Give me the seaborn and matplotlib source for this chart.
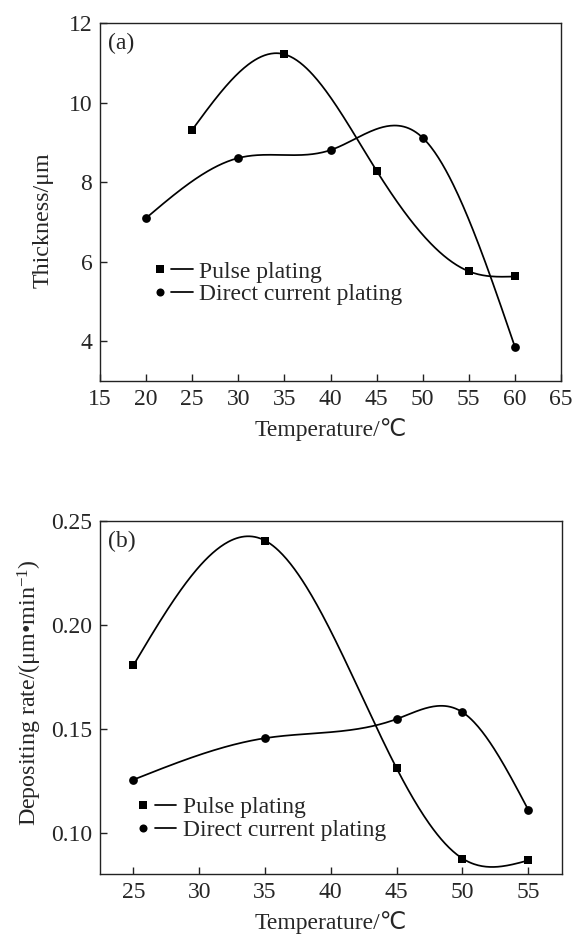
import numpy as np
import pandas as pd
import matplotlib
matplotlib.use("Agg")
import matplotlib.pyplot as plt
import seaborn as sns
from matplotlib.lines import Line2D
from matplotlib.legend_handler import HandlerTuple

# ---------------- data ----------------
temp_a_pulse = [25, 35, 45, 55, 60]
thick_pulse = [9.32, 11.22, 8.29, 5.76, 5.63]
temp_a_dc = [20, 30, 40, 50, 60]
thick_dc = [7.10, 8.61, 8.81, 9.12, 3.86]

temp_b_pulse = [25, 35, 45, 50, 55]
rate_pulse = [0.1805, 0.2406, 0.131, 0.0876, 0.0867]
temp_b_dc = [25, 35, 45, 50, 55]
rate_dc = [0.1255, 0.1455, 0.1547, 0.158, 0.111]

xticks_a = [15, 20, 25, 30, 35, 40, 45, 50, 55, 60, 65]
yticks_a = [4, 6, 8, 10, 12]
xticks_b = [25, 30, 35, 40, 45, 50, 55]
yticks_b = [0.10, 0.15, 0.20, 0.25]
ytick_labels_b = ["0.10", "0.15", "0.20", "0.25"]

labels = ["Pulse plating", "Direct current plating"]


def natural_spline(x, y, n=300):
    x = np.asarray(x, float)
    y = np.asarray(y, float)
    m = len(x)
    h = np.diff(x)
    A = np.zeros((m, m))
    b = np.zeros(m)
    A[0, 0] = 1
    A[-1, -1] = 1
    for i in range(1, m - 1):
        A[i, i - 1] = h[i - 1]
        A[i, i] = 2 * (h[i - 1] + h[i])
        A[i, i + 1] = h[i]
        b[i] = 3 * ((y[i + 1] - y[i]) / h[i] - (y[i] - y[i - 1]) / h[i - 1])
    c = np.linalg.solve(A, b)
    bb = (y[1:] - y[:-1]) / h - h * (2 * c[:-1] + c[1:]) / 3
    d = (c[1:] - c[:-1]) / (3 * h)
    xs = np.linspace(x[0], x[-1], n)
    idx = np.clip(np.searchsorted(x, xs, side="right") - 1, 0, m - 2)
    dx = xs - x[idx]
    ys = y[idx] + bb[idx] * dx + c[idx] * dx ** 2 + d[idx] * dx ** 3
    return xs, ys


sns.set_style("ticks")
plt.rcParams["font.family"] = ["Liberation Serif", "DejaVu Sans"]
plt.rcParams["mathtext.fontset"] = "custom"
plt.rcParams["mathtext.rm"] = "Liberation Serif"
plt.rcParams["mathtext.it"] = "Liberation Serif:italic"
plt.rcParams["xtick.direction"] = "in"
plt.rcParams["ytick.direction"] = "in"

fig = plt.figure(figsize=(5.75, 9.36), dpi=100)
W, H = 575, 936
ax1 = fig.add_axes([100 / W, 1 - 381 / H, 461 / W, 357.7 / H])
ax2 = fig.add_axes([100 / W, 1 - 874.3 / H, 462 / W, 353.3 / H])

LW = 1.25
MS_S = 6.0
MS_C = 6.3


def draw(ax, xp, yp, xd, yd):
    for (xx, yy, mk, ms) in [(xp, yp, "s", MS_S), (xd, yd, "o", MS_C)]:
        xs, ys = natural_spline(xx, yy)
        sns.lineplot(x=xs, y=ys, ax=ax, color="black", lw=LW, sort=False,
                     estimator=None, legend=False)
        ax.plot(xx, yy, ls="none", marker=mk, ms=ms, mew=0, color="black",
                zorder=5)
    hp = (Line2D([], [], ls="none", marker="s", ms=5.4, mew=0, color="black"),
          Line2D([], [], color="black", lw=LW))
    hd = (Line2D([], [], ls="none", marker="o", ms=5.8, mew=0, color="black"),
          Line2D([], [], color="black", lw=LW))
    return [hp, hd]


h1 = draw(ax1, temp_a_pulse, thick_pulse, temp_a_dc, thick_dc)
h2 = draw(ax2, temp_b_pulse, rate_pulse, temp_b_dc, rate_dc)

ax1.set_xlim(15, 65)
ax1.set_ylim(3, 12)
ax1.set_xticks(xticks_a)
ax1.set_yticks(yticks_a)
ax2.set_xlim(22.47, 57.56)
ax2.set_ylim(0.08, 0.25)
ax2.set_xticks(xticks_b)
ax2.set_yticks(yticks_b)
ax2.set_yticklabels(ytick_labels_b)

for ax in (ax1, ax2):
    for s in ax.spines.values():
        s.set_visible(True)
        s.set_color("#222222")
        s.set_linewidth(1.0)
    ax.tick_params(axis="both", which="major", direction="in", length=5,
                   width=1.0, labelsize=17, color="#222222", pad=5.5)
    ax.set_xlabel("Temperature/\u2103", fontsize=17, labelpad=6)

ax1.set_ylabel("Thickness/\u03bcm", fontsize=17.3)
ax1.yaxis.set_label_coords(-0.1, 0.45)
ax2.set_ylabel("Depositing rate/(\u03bcm\u2022min$^{-1}$)", fontsize=17.3)
ax2.yaxis.set_label_coords(-0.121, 0.515)

ax1.text(0.018, 0.974, "(a)", transform=ax1.transAxes, fontsize=17,
         va="top", ha="left")
ax2.text(0.018, 0.972, "(b)", transform=ax2.transAxes, fontsize=17,
         va="top", ha="left")

for ax, h, anchor in [(ax1, h1, (0.106, 0.335)), (ax2, h2, (0.070, 0.219))]:
    ax.legend(h, labels, handler_map={tuple: HandlerTuple(ndivide=None, pad=0.03)},
              loc="upper left", bbox_to_anchor=anchor, frameon=False,
              fontsize=17, handlelength=1.86, handletextpad=0.28,
              labelspacing=0.05, borderpad=0.0, borderaxespad=0)

fig.savefig("out.png", dpi=100)
